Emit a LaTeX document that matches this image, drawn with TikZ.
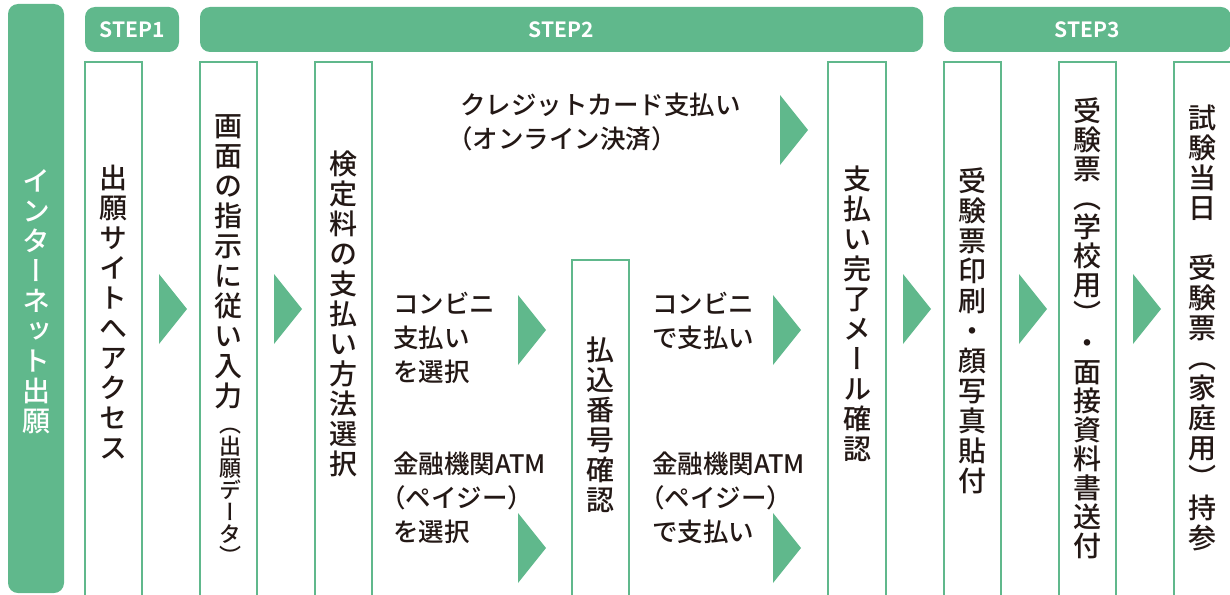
\documentclass[tikz,border=0pt]{standalone}
\usepackage{fontspec}
\setmainfont{Noto Sans CJK JP Medium}[BoldFont={Noto Sans CJK JP Bold}]
\newfontfamily\tatefont[RawFeature=+vert]{Noto Sans CJK JP Medium}
\newfontfamily\yokofont[RawFeature=+halt]{Noto Sans CJK JP Medium}
\definecolor{stepgreen}{RGB}{96,184,140}
\definecolor{ink}{RGB}{35,24,21}

\begin{document}
\begin{tikzpicture}[x=1pt, y=-1pt,
		header/.style={fill=stepgreen, rounded corners=10pt, minimum height=45pt, inner sep=0pt,
			text=white, font=\bfseries\fontsize{21}{21}\selectfont},
		colbox/.style={draw=stepgreen, line width=2pt, fill=white},
		tate/.style={font=\tatefont\fontsize{28}{30}\selectfont, text=ink, align=center, inner sep=0pt},
		yoko/.style={font=\yokofont\fontsize{25.5}{34}\selectfont, text=ink, align=left, inner sep=0pt, anchor=west},
		tri/.style={fill=stepgreen}]
		\useasboundingbox (0,0) rectangle (1230,594);
		\clip (0,0) rectangle (1230,594);
		\fill[stepgreen, rounded corners=10pt] (8,4) rectangle (64,593);
		\node[header, minimum width=94pt] (step1) at (132,29.5) {STEP1};
		\node[header, minimum width=723pt] (step2) at (561.5,29.5) {STEP2};
		\node[header, minimum width=287pt] (step3) at (1087.5,29.5) {STEP3};
		\foreach \cx/\cy/\cw in {85/62/57, 200/62/57, 315/62/57, 572/260/57, 828/62/58, 944/62/57, 1059/62/57, 1174/62/57}
			\draw[colbox] (\cx,\cy) rectangle (\cx+\cw,610);
		\foreach \ax/\ay in {159/309, 274/309, 903/309, 1019/309, 1133/309, 780/130, 518/330, 773/330, 518/548, 773/548}
			\fill[tri] (\ax,\ay-35) -- (\ax+28,\ay) -- (\ax,\ay+35) -- cycle;
		\node[tate, text=white] (web) at (36,302) {イ\\ン\\タ\\ー\\ネ\\ッ\\ト\\出\\願};
		\node[tate] (access) at (113.5,312) {出\\願\\サ\\イ\\ト\\へ\\ア\\ク\\セ\\ス};
		\node[tate] (input) at (228.5,262) {画\\面\\の\\指\\示\\に\\従\\い\\入\\力};
		\node[tate, font=\tatefont\fontsize{22}{22}\selectfont] (data) at (230.5,496) {（\\出\\願\\デ\\ー\\タ\\）};
		\node[tate] (method) at (343.5,314) {検\\定\\料\\の\\支\\払\\い\\方\\法\\選\\択};
		\node[tate] (number) at (600.5,425) {払\\込\\番\\号\\確\\認};
		\node[tate] (mail) at (857,314) {支\\払\\い\\完\\了\\メ\\ー\\ル\\確\\認};
		\node[tate] (print) at (972.5,331) {受\\験\\票\\印\\刷\\・\\顔\\写\\真\\貼\\付};
		\node[tate, font=\tatefont\fontsize{28}{29}\selectfont] (send) at (1087.5,328.5) {受\\験\\票\\（\\学\\校\\用\\）\\・\\面\\接\\資\\料\\書\\送\\付};
		\node[tate] (exam) at (1202.5,328) {試\\験\\当\\日\\　\\受\\験\\票\\（\\家\\庭\\用\\）\\持\\参};
		\node[yoko] (credit) at (460,122) {クレジットカード支払い\\（オンライン決済）};
		\node[yoko] (cvs) at (393,338) {コンビニ\\支払い\\を選択};
		\node[yoko] (atm) at (393,498) {金融機関ATM\\（ペイジー）\\を選択};
		\node[yoko] (cvspay) at (652,321) {コンビニ\\で支払い};
		\node[yoko] (atmpay) at (652,498) {金融機関ATM\\（ペイジー）\\で支払い};
	\end{tikzpicture}
\end{document}
